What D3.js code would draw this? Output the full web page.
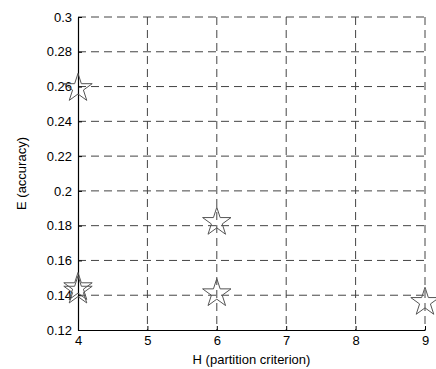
<!DOCTYPE html>
<html>
<head>
<meta charset="utf-8">
<script src="https://cdnjs.cloudflare.com/ajax/libs/d3/7.8.5/d3.min.js"></script>
<style>
body { margin: 0; background: #fff; }
text { font-family: "Liberation Sans", Arial, sans-serif; }
</style>
</head>
<body>
<div id="chart"></div>
<script>
// values
var hValues = [4, 4, 4, 6, 6, 9];
var eValues = [0.259, 0.1445, 0.1425, 0.182, 0.141, 0.136];
var xTicks = [4, 5, 6, 7, 8, 9];
var yTicks = [0.12, 0.14, 0.16, 0.18, 0.2, 0.22, 0.24, 0.26, 0.28, 0.3];

var width = 436, height = 369;
var plotLeft = 78, plotRight = 425, plotTop = 17, plotBottom = 330;

var svg = d3.select("#chart").append("svg")
	.attr("width", width)
	.attr("height", height);

var x = d3.scaleLinear().domain([4, 9]).range([plotLeft, plotRight]);
var y = d3.scaleLinear().domain([0.12, 0.3]).range([plotBottom, plotTop]);

// grid
var grid = svg.append("g").attr("class", "grid");
grid.selectAll("line.v")
	.data(xTicks.slice(1))
	.enter().append("line")
	.attr("x1", function(d){ return x(d); })
	.attr("x2", function(d){ return x(d); })
	.attr("y1", plotTop).attr("y2", plotBottom)
	.attr("stroke", "#444").attr("stroke-width", 1)
	.attr("stroke-dasharray", "8,5");
grid.selectAll("line.h")
	.data(yTicks.slice(1))
	.enter().append("line")
	.attr("y1", function(d){ return y(d); })
	.attr("y2", function(d){ return y(d); })
	.attr("x1", plotLeft).attr("x2", plotRight)
	.attr("stroke", "#444").attr("stroke-width", 1)
	.attr("stroke-dasharray", "8,5");

// axes
var xAxis = d3.axisBottom(x).tickValues(xTicks).tickSizeInner(-4).tickSizeOuter(0).tickPadding(6)
	.tickFormat(d3.format("d"));
var yAxis = d3.axisLeft(y).tickValues(yTicks).tickSizeInner(-4).tickSizeOuter(0).tickPadding(6)
	.tickFormat(function(d){ return String(+d.toFixed(2)); });

var gx = svg.append("g").attr("transform", "translate(0," + plotBottom + ")").call(xAxis);
var gy = svg.append("g").attr("transform", "translate(" + plotLeft + ",0)").call(yAxis);
[gx, gy].forEach(function(g){
	g.select(".domain").attr("stroke", "#000").attr("stroke-width", 1.2);
	g.selectAll(".tick line").attr("stroke", "#000");
	g.selectAll("text").attr("font-size", "13px").attr("fill", "#000")
		.attr("font-family", "Liberation Sans, Arial, sans-serif");
});

// stars
var star = d3.symbol().type(d3.symbolStar).size(250);
svg.append("g").selectAll("path")
	.data(hValues)
	.enter().append("path")
	.attr("d", star)
	.attr("transform", function(d, i){ return "translate(" + x(d) + "," + y(eValues[i]) + ")"; })
	.attr("fill", "none")
	.attr("stroke", "#555")
	.attr("stroke-width", 1);

// labels
svg.append("text")
	.attr("x", (plotLeft + plotRight) / 2)
	.attr("y", 364)
	.attr("text-anchor", "middle")
	.attr("font-size", "13px")
	.text("H (partition criterion)");

svg.append("text")
	.attr("transform", "translate(26," + ((plotTop + plotBottom) / 2) + ") rotate(-90)")
	.attr("text-anchor", "middle")
	.attr("font-size", "13px")
	.text("E (accuracy)");
</script>
</body>
</html>
